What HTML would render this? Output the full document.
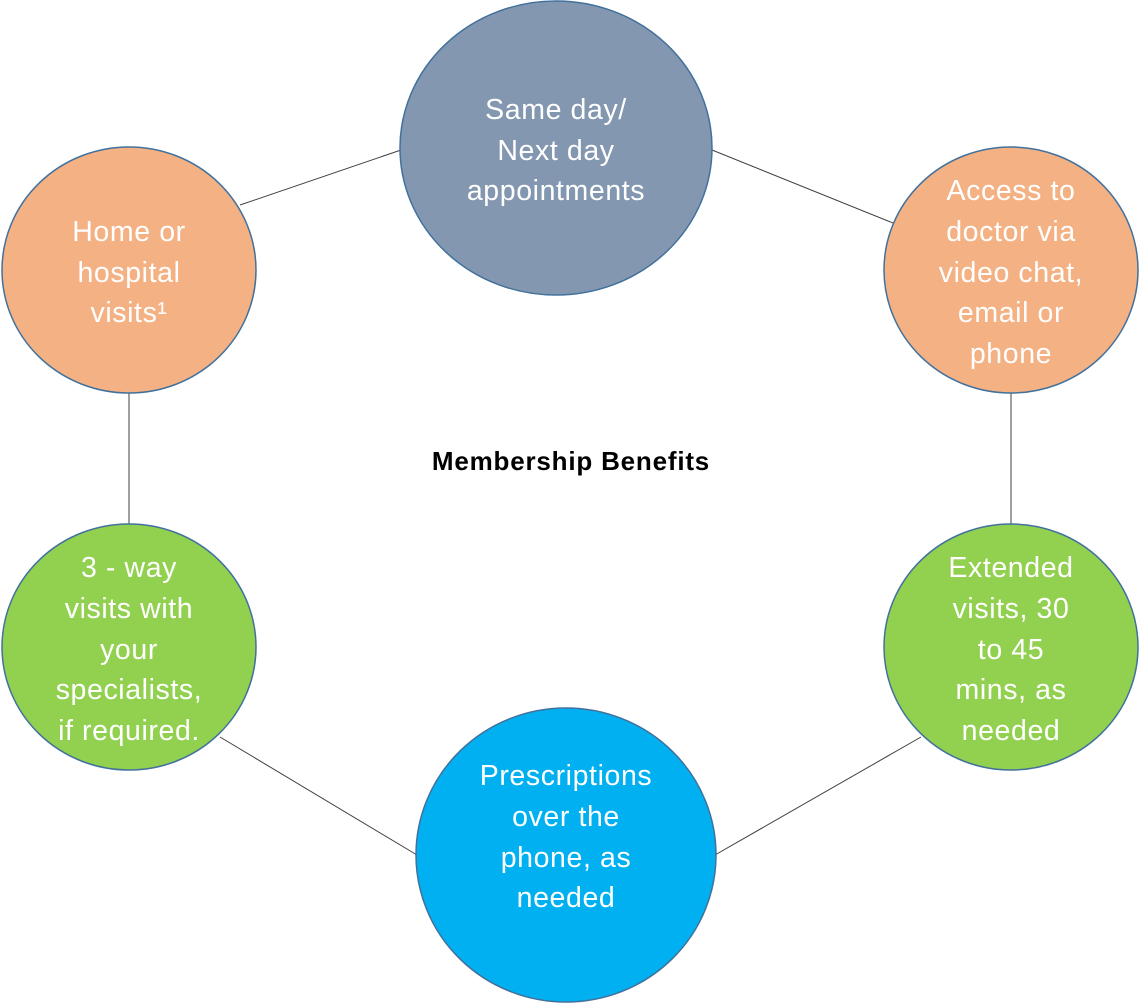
<!DOCTYPE html>
<html><head><style>body{margin:0;background:#fff}svg{display:block}</style></head>
<body>
<svg width="1140" height="1003" xmlns="http://www.w3.org/2000/svg" font-family="Liberation Sans, sans-serif">
<g stroke="#404040" stroke-width="1">
<line x1="240" y1="205" x2="401" y2="150"/>
<line x1="712" y1="150" x2="898" y2="225"/>
<line x1="129" y1="393" x2="129" y2="524"/>
<line x1="1011" y1="393" x2="1011" y2="524"/>
<line x1="220" y1="737" x2="417" y2="855"/>
<line x1="715" y1="855" x2="921" y2="737"/>
</g>
<g stroke="#41719C" stroke-width="1.5">
<ellipse cx="556" cy="148" rx="156" ry="147" fill="#8497B0"/>
<ellipse cx="129" cy="270" rx="127" ry="123" fill="#F4B183"/>
<ellipse cx="1011" cy="270" rx="127" ry="123" fill="#F4B183"/>
<ellipse cx="129" cy="647" rx="127" ry="123" fill="#92D050"/>
<ellipse cx="1011" cy="647" rx="127" ry="123" fill="#92D050"/>
<ellipse cx="566" cy="855" rx="150" ry="147" fill="#00B0F0"/>
</g>
<g fill="#fff" font-size="28.5" letter-spacing="0.6" text-anchor="middle">
<text x="556" y="119">Same day/</text><text x="556" y="160">Next day</text><text x="556" y="200">appointments</text>
<text x="129" y="241">Home or</text><text x="129" y="282">hospital</text><text x="129" y="322">visits¹</text>
<text x="1011" y="200">Access to</text><text x="1011" y="241">doctor via</text><text x="1011" y="282">video chat,</text><text x="1011" y="322">email or</text><text x="1011" y="363">phone</text>
<text x="129" y="577">3 - way</text><text x="129" y="618">visits with</text><text x="129" y="659">your</text><text x="129" y="699">specialists,</text><text x="129" y="740">if required.</text>
<text x="1011" y="577">Extended</text><text x="1011" y="618">visits, 30</text><text x="1011" y="659">to 45</text><text x="1011" y="699">mins, as</text><text x="1011" y="740">needed</text>
<text x="566" y="785">Prescriptions</text><text x="566" y="826">over the</text><text x="566" y="867">phone, as</text><text x="566" y="907">needed</text>
</g>
<text x="571" y="470" font-size="26" letter-spacing="0.8" font-weight="bold" text-anchor="middle" fill="#000">Membership Benefits</text>
</svg>
</body></html>
